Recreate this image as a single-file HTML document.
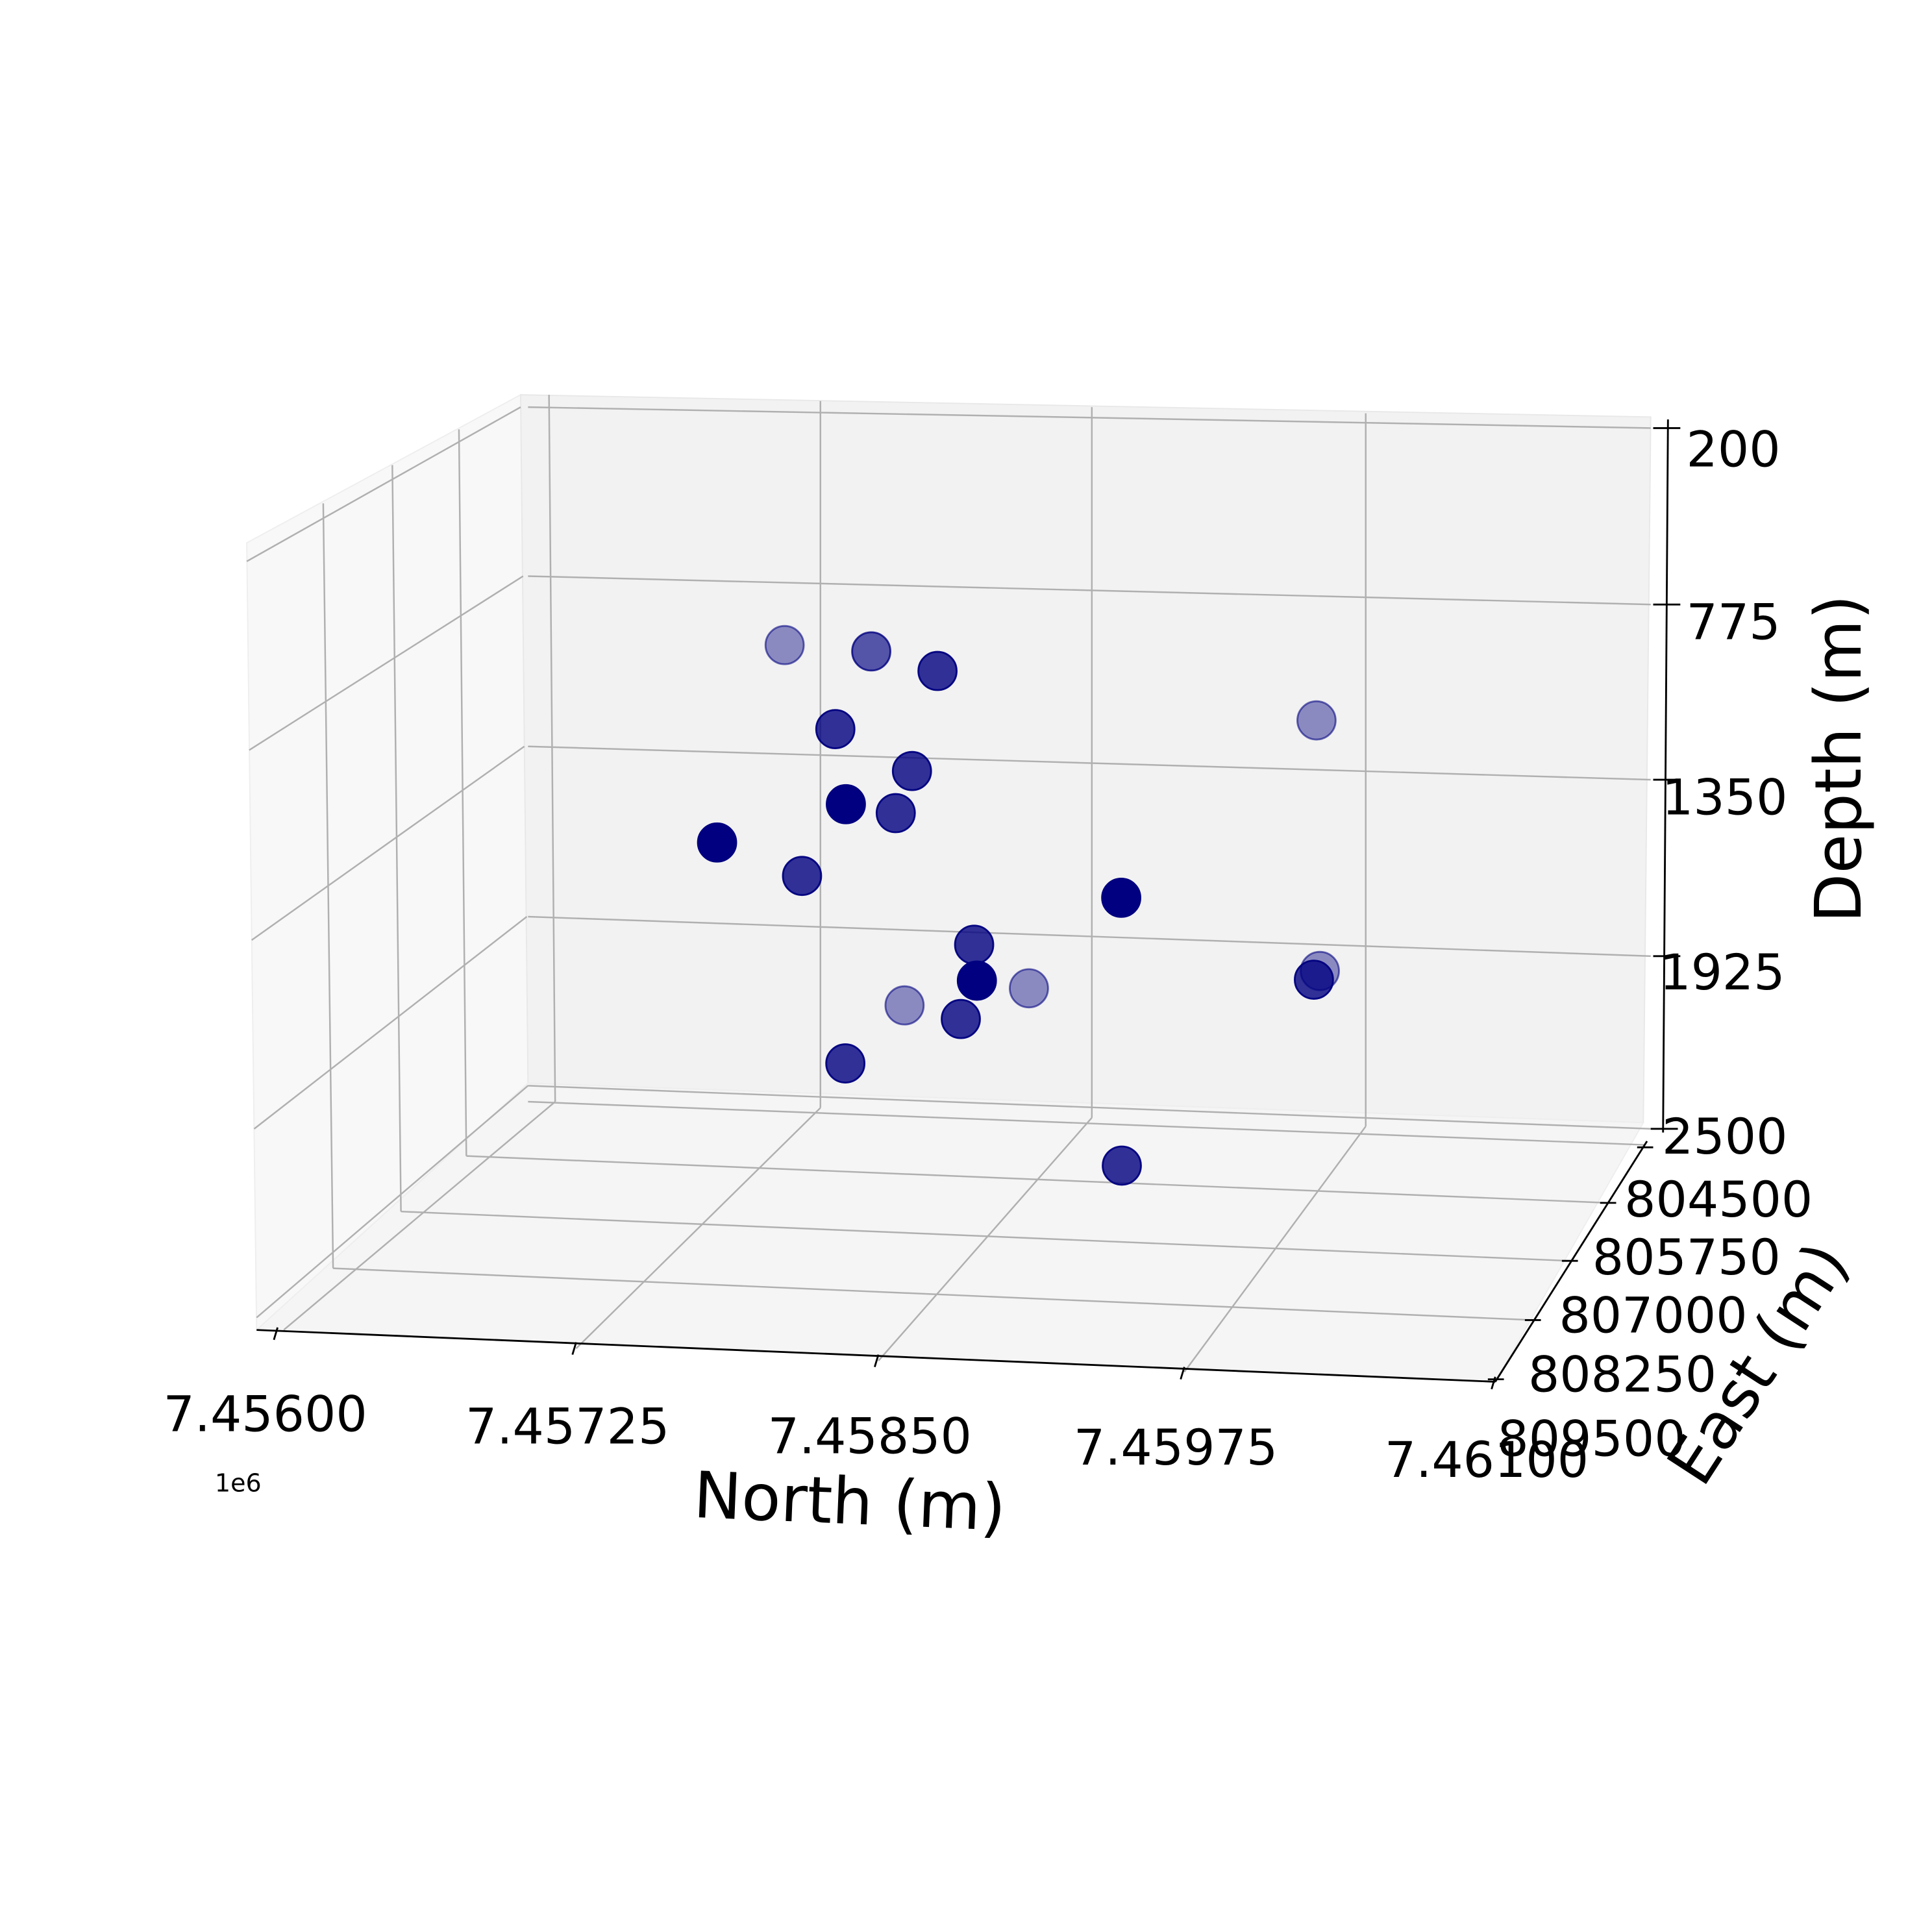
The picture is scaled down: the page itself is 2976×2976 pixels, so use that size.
<!DOCTYPE html>
<html><head><meta charset="utf-8"><style>
html,body{margin:0;padding:0;background:#fff;}
svg{display:block;font-family:"DejaVu Sans","Liberation Sans",sans-serif;}
</style></head><body>
<svg id="chart" width="2976" height="2976" viewBox="0 0 1566 1566" xmlns="http://www.w3.org/2000/svg">
<rect width="1566" height="1566" fill="#fff"/>
<g>
<polygon points="200,440 422,320 428,878 208,1078" fill="#f8f8f8" stroke="#eeeeee"/>
<polygon points="422,320 1338,338 1332,910 428,878" fill="#f2f2f2" stroke="#e8e8e8"/>
<polygon points="208,1078 428,878 1332,910 1212,1120" fill="#f5f5f5" stroke="#eeeeee"/>
</g>
<g stroke="#b0b0b0" stroke-width="1.3" fill="none">
<path d="M445,320 L450,893 M665,325 L665,898 M885,330 L885,906 M1107,335 L1107,913"/>
<path d="M428,330 L1338,347 M428,467 L1338,490 M428,605 L1338,632 M428,743 L1338,775 M428,880 L1338,915"/>
<path d="M422,330 L200,455 M424,467 L202,608 M425,605 L204,762 M427,743 L206,915 M428,880 L208,1068"/>
<path d="M262,408 L270,1028 M318,377 L325,982 M372,348 L378,937"/>
<path d="M450,893 L230,1078 M665,898 L467,1093 M885,906 L712,1103 M1107,913 L960,1112"/>
<path d="M378,937 L1303,975 M325,982 L1272,1022 M270,1028 L1242,1070 M428,893 L1333,928"/>
</g>
<g stroke="#000" stroke-width="1.5" fill="none">
<path d="M208,1078 L1212,1120"/>
<path d="M1335,925 L1212,1120"/>
<path d="M1352,340 L1348,918"/>
<path d="M225,1076 L222,1086 M467,1088 L464,1098 M712,1098 L709,1108 M960,1108 L957,1118 M1212,1116 L1209,1126"/>
<path d="M1327,930 L1340,930 M1297,975 L1310,975 M1266,1022 L1279,1022 M1236,1070 L1249,1070 M1206,1118 L1219,1118"/>
<path d="M1340,347 L1362,347 M1340,490 L1362,490 M1340,632 L1362,632 M1340,775 L1362,775 M1338,915 L1360,915"/>
</g>
<g id="points"></g>
<g font-size="40" text-anchor="middle" fill="#000">
<text x="215" y="1160">7.45600</text><text x="460" y="1170">7.45725</text><text x="705" y="1178">7.45850</text><text x="953" y="1187">7.45975</text><text x="1205" y="1197">7.46100</text>
</g>
<text x="193" y="1209" font-size="20" text-anchor="middle">1e6</text>
<text x="688" y="1235" font-size="52" text-anchor="middle" transform="rotate(2.4 688 1235)">North (m)</text>
<g font-size="40" text-anchor="middle" fill="#000">
<text x="1393" y="986">804500</text><text x="1367" y="1033">805750</text><text x="1340" y="1080">807000</text><text x="1315" y="1128">808250</text><text x="1290" y="1180">809500</text>
</g>
<text x="1440" y="1115" font-size="52" text-anchor="middle" transform="rotate(-57 1440 1115)">East (m)</text>
<g font-size="40" text-anchor="middle" fill="#000">
<text x="1405" y="378">200</text><text x="1405" y="518">775</text><text x="1398" y="660">1350</text><text x="1396" y="802">1925</text><text x="1398" y="935">2500</text>
</g>
<text x="1508" y="615" font-size="52" text-anchor="middle" transform="rotate(-90 1508 615)">Depth (m)</text>
</svg>
<script>
const north = [7457185,7457780,7458215,7457755,7458100,7457980,7458027,7457400,7457605,7459580,7459220,7458380,7458570,7457725,7458285,7458320,7457800,7459595,7459910,7459045];
const east  = [805000,806500,807500,807500,807500,808800,807500,808800,807500,805000,808800,807500,808800,805000,805000,807500,807500,805000,807500,807500];
const depth = [911,680,575,780,906,817,1046,961,1265,1080,1083,1465,1375,2072,1998,1710,1872,1899,1530,2166];
function proj(n,e,d){
  const fn=(n-7456000)/5000, fe=(e-804500)/5000, fd=(2500-d)/2300;
  return [435+900*fn-123*fe, 888+40*fn+192*fe-570*fd];
}
const g=document.getElementById('points');
const idx=north.map((_,i)=>i).sort((a,b)=>east[a]-east[b]);
idx.forEach(i=>{
  const p=proj(north[i],east[i],depth[i]);
  const a=Math.max(0.4,Math.min(1,0.4+0.6*(east[i]-804800)/4000));
  const c=document.createElementNS('http://www.w3.org/2000/svg','circle');
  
  
  c.setAttribute('cx',p[0]);c.setAttribute('cy',p[1]);c.setAttribute('r',15.5);
  c.setAttribute('fill','#000080');c.setAttribute('fill-opacity',a);
  c.setAttribute('stroke','#000080');c.setAttribute('stroke-opacity',Math.min(1,a+0.15));c.setAttribute('stroke-width',1.5);
  g.appendChild(c);
});
</script>
</body></html>
